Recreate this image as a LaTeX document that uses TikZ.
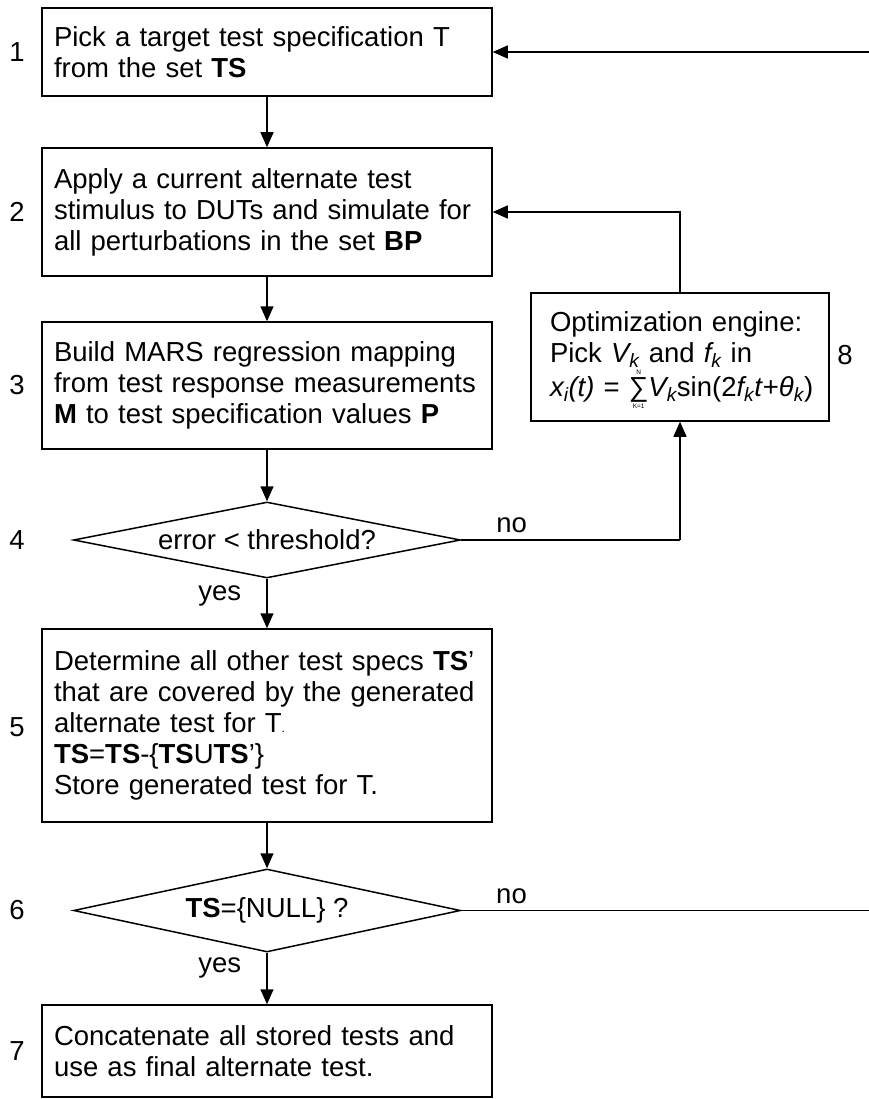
\documentclass[tikz,border=0pt]{standalone}
\usepackage{fontspec}
\setmainfont{Liberation Sans}
\usetikzlibrary{shapes.geometric,arrows.meta}

% summation sign with tiny limits set above and below it
\newsavebox\sumglyph
\newcommand{\limsum}[2]{%
  \sbox\sumglyph{∑}%
  \makebox[0pt][l]{\makebox[\wd\sumglyph]{\smash{\raisebox{0.80em}{\fontsize{6.5}{6.5}\selectfont #2}}}}%
  \makebox[0pt][l]{\makebox[\wd\sumglyph]{\smash{\raisebox{-0.44em}{\fontsize{6.5}{6.5}\selectfont #1}}}}%
  \usebox\sumglyph}

\tikzset{
  txt/.style={font=\fontsize{27.5}{31}\selectfont},
  stepbox/.style={txt, draw, line width=1.5pt, rectangle, minimum width=450pt,
    text width=426pt, inner xsep=12pt, inner ysep=0pt, align=left},
  optbox/.style={txt, draw, line width=1.5pt, rectangle, minimum width=298pt,
    text width=270pt, inner xsep=14pt, inner ysep=0pt, align=left, minimum height=128pt},
  decision/.style={txt, draw, line width=1.5pt, diamond, shape aspect=5,
    inner sep=0pt, minimum width=387pt},
  num/.style={txt, inner sep=0pt},
  lbl/.style={txt, inner sep=0pt},
  arr/.style={line width=1.5pt, -{Triangle[width=13pt,length=15pt]}},
  conn/.style={line width=1.5pt}
}

\begin{document}
\begin{tikzpicture}[x=1pt,y=-1pt]
\useasboundingbox (0,0) rectangle (869,1099);
\clip (0,0) rectangle (869,1099);

% process steps
\node[stepbox, minimum height=88pt] (b1) at (267,52)
  {Pick a target test specification T\\from the set \textbf{TS}};
\node[stepbox, minimum height=128pt] (b2) at (267,212)
  {Apply a current alternate test\\stimulus to DUTs and simulate for\\all perturbations in the set \textbf{BP}};
\node[stepbox, minimum height=127pt] (b3) at (267,385.5)
  {Build MARS regression mapping\\from test response measurements\\\textbf{M} to test specification values \textbf{P}};
\node[decision, minimum height=76pt] (d4) at (267,540)
  {\makebox[0pt]{error < threshold?}};
\node[stepbox, minimum height=193pt] (b5) at (267,725.5)
  {Determine all other test specs \textbf{TS}’\\that are covered by the generated\\alternate test for T{\fontsize{12}{12}\selectfont.}\\\textbf{TS}=\textbf{TS}-\{\textbf{TS}U\textbf{TS}’\}\\Store generated test for T.};
\node[decision, minimum height=83pt] (d6) at (267,910.5)
  {\makebox[0pt]{\textbf{TS}=\{NULL\} ?}};
\node[stepbox, minimum height=92pt] (b7) at (267,1051)
  {Concatenate all stored tests and\\use as final alternate test.};

% optimization engine
\node[optbox] (b8) at (680,357)
  {\hspace*{5pt}Optimization engine:\\
   \hspace*{5pt}Pick \textit{V\textsubscript{k}} and \textit{f\textsubscript{k}} in\\[3pt]
   \hspace*{5pt}\textit{x\textsubscript{i}(t)} = \limsum{K=1}{N}\textit{V\textsubscript{k}}sin(2\textit{f\textsubscript{k}t}+\textit{θ\textsubscript{k}})};

% step numbers
\node[num] (n1) at (17,52) {1};
\node[num] (n2) at (17,212) {2};
\node[num] (n3) at (17,385) {3};
\node[num] (n4) at (17,540) {4};
\node[num] (n5) at (17,727) {5};
\node[num] (n6) at (17,910) {6};
\node[num] (n7) at (17,1051) {7};
\node[num] (n8) at (845,355) {8};

% main flow
\draw[arr] (b1) -- (b2);
\draw[arr] (b2) -- (b3);
\draw[arr] (b3) -- (d4);
\draw[arr] (d4) -- node[lbl, at start, anchor=north east, xshift=-25pt, yshift=-6pt] (y4) {yes} (b5);
\draw[arr] (b5) -- (d6);
\draw[arr] (d6) -- node[lbl, at start, anchor=north east, xshift=-25pt, yshift=-4pt] (y6) {yes} (b7);

% optimization loop
\draw[conn] (d4.east) -- node[lbl, pos=0.23, above=6pt] (no4) {no} (d4.east -| b8.south);
\draw[arr] (d4.east -| b8.south) -- (b8.south);
\draw[arr] (b8.north) |- (b2.east);

% return to the next target specification
\coordinate (ret) at (880,0);
\draw[arr] (d6.east) -- node[lbl, pos=0.12, above=6pt] (no6) {no} (d6.east -| ret) |- (b1.east);
\end{tikzpicture}
\end{document}
